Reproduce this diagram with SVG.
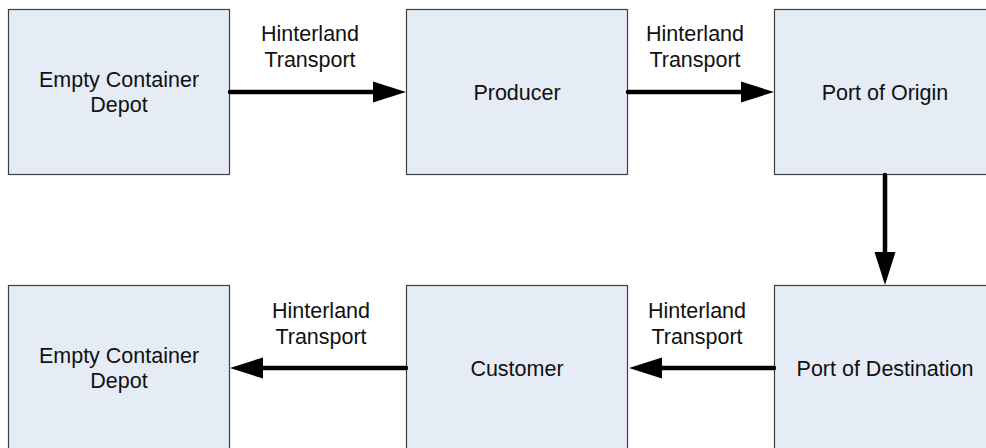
<svg xmlns="http://www.w3.org/2000/svg" width="986" height="448" viewBox="0 0 986 448">
  <defs>
    <style>
      .box { fill: #E6ECF6; stroke: #3F3F3F; stroke-width: 1.2; }
      .lbl { font-family: "Liberation Sans", Arial, sans-serif; font-size: 21.5px; fill: #111111; text-anchor: middle; }
      .conn { fill: none; stroke: #000000; stroke-width: 4.5; stroke-linecap: round; marker-end: url(#ah); }
    </style>
    <marker id="ah" markerUnits="userSpaceOnUse" markerWidth="33" markerHeight="22" viewBox="0 0 33 22" refX="1" refY="11" orient="auto">
      <path d="M0,0.5 L33,11 L0,21.5 Z" fill="#000000"/>
    </marker>
  </defs>
  <rect width="986" height="448" fill="#FFFFFF"/>

  <g id="node-depot-top">
    <rect class="box" x="8.5" y="9.5" width="221" height="165"/>
    <text class="lbl" x="119" y="87">Empty Container</text>
    <text class="lbl" x="119" y="112">Depot</text>
  </g>
  <g id="node-producer">
    <rect class="box" x="406.5" y="9.5" width="221" height="165"/>
    <text class="lbl" x="517" y="100">Producer</text>
  </g>
  <g id="node-port-origin">
    <rect class="box" x="774.5" y="9.5" width="222" height="165"/>
    <text class="lbl" x="885" y="100">Port of Origin</text>
  </g>
  <g id="node-port-destination">
    <rect class="box" x="774.5" y="285.5" width="222" height="170"/>
    <text class="lbl" x="885" y="376">Port of Destination</text>
  </g>
  <g id="node-customer">
    <rect class="box" x="406.5" y="285.5" width="221" height="170"/>
    <text class="lbl" x="517" y="376">Customer</text>
  </g>
  <g id="node-depot-bottom">
    <rect class="box" x="8.5" y="285.5" width="221" height="170"/>
    <text class="lbl" x="119" y="363">Empty Container</text>
    <text class="lbl" x="119" y="388">Depot</text>
  </g>

  <g id="connectors">
    <path class="conn" d="M230,92 H374"/>
    <path class="conn" d="M628,92 H742"/>
    <path class="conn" d="M885,175 V253"/>
    <path class="conn" d="M774,368 H661"/>
    <path class="conn" d="M406,368 H262"/>
    <text class="lbl" x="310" y="41">Hinterland</text>
    <text class="lbl" x="310" y="67">Transport</text>
    <text class="lbl" x="695" y="41">Hinterland</text>
    <text class="lbl" x="695" y="67">Transport</text>
    <text class="lbl" x="321" y="318">Hinterland</text>
    <text class="lbl" x="321" y="344">Transport</text>
    <text class="lbl" x="697" y="318">Hinterland</text>
    <text class="lbl" x="697" y="344">Transport</text>
  </g>
</svg>
